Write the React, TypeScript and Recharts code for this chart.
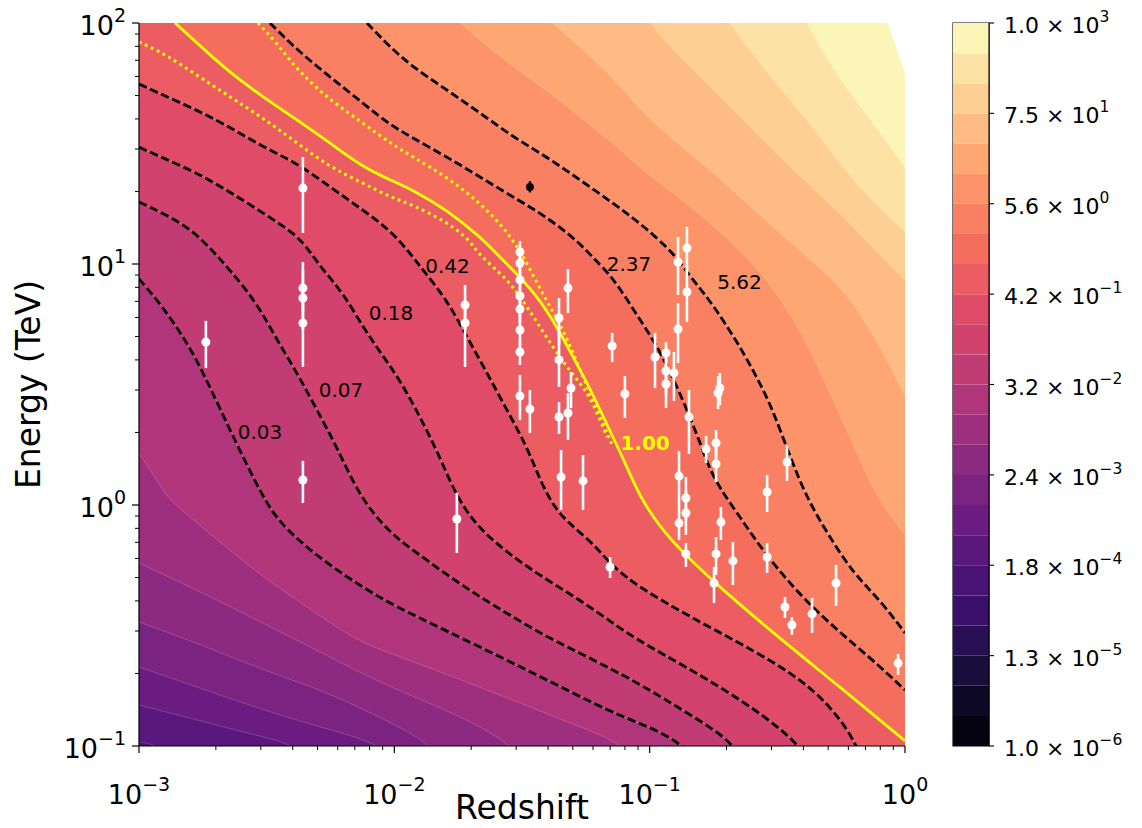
import React from 'react';
import {
  ComposedChart, Area, Line, Scatter, XAxis, YAxis, ErrorBar, Label,
  BarChart, Bar, ReferenceArea,
} from 'recharts';

const FONT = "'DejaVu Sans', sans-serif";

// ---------------- optical-depth levels (colour bands) ----------------
const tauLevels = [1e-6, 2.37e-6, 5.62e-6, 1.33e-5, 3.16e-5, 7.5e-5, 1.78e-4, 4.22e-4, 1.0e-3, 2.37e-3, 5.62e-3,
  1.33e-2, 3.16e-2, 7.5e-2, 0.178, 0.422, 1.0, 2.37, 5.62, 13.3, 31.6, 75.0, 178, 422, 1000];

// colour-bar ticks
const cbTickIndex = [0, 3, 6, 9, 12, 15, 18, 21, 24];
const cbTickMantissa = ['1.0', '1.3', '1.8', '2.4', '3.2', '4.2', '5.6', '7.5', '1.0'];
const cbTickExponent = [-6, -5, -4, -3, -2, -1, 0, 1, 3];

// axis ticks (log10 units)
const xMajorTicks = [-3, -2, -1, 0];
const yMajorTicks = [-1, 0, 1, 2];
const minorMantissas = [2, 3, 4, 5, 6, 7, 8, 9];

// ---------------- contour boundaries: [log10 z, log10 E/TeV] ----------------
const lvl06 = [[-3.0, -0.983], [-2.898, -1.0]];
const lvl07 = [[-3.0, -0.83], [-2.773, -0.892], [-2.514, -0.963], [-2.366, -1.0]];
const lvl08 = [[-3.0, -0.672], [-2.773, -0.755], [-2.514, -0.851], [-2.252, -0.934], [-2.017, -1.0]];
const lvl09 = [[-3.0, -0.485], [-2.773, -0.573], [-2.514, -0.685], [-2.252, -0.78], [-2.037, -0.892], [-1.833, -1.0]];
const lvl10 = [[-3.0, -0.241], [-2.773, -0.353], [-2.514, -0.49], [-2.252, -0.631], [-2.037, -0.747], [-1.794, -0.851], [-1.508, -1.0]];
const lvl11 = [[-3.0, 0.216], [-2.906, 0.062], [-2.879, 0.021], [-2.773, -0.075], [-2.644, -0.187], [-2.514, -0.299],
  [-2.381, -0.394], [-2.252, -0.49], [-2.123, -0.573], [-2.017, -0.614], [-1.664, -0.755], [-1.273, -0.921], [-1.077, -1.0]];
const lvl12 = [[-3.0, 0.938], [-2.906, 0.822], [-2.8, 0.656], [-2.722, 0.49], [-2.644, 0.311], [-2.514, 0.029],
  [-2.448, -0.075], [-2.319, -0.199], [-2.185, -0.299], [-2.056, -0.386], [-1.927, -0.456], [-1.664, -0.589],
  [-1.402, -0.726], [-1.144, -0.863], [-1.038, -0.905], [-0.84, -1.0]];
const lvl13 = [[-3.0, 1.257], [-2.898, 1.207], [-2.792, 1.141], [-2.714, 1.058], [-2.644, 0.975], [-2.538, 0.838],
  [-2.46, 0.685], [-2.381, 0.548], [-2.303, 0.394], [-2.225, 0.241], [-2.134, 0.029], [-2.017, -0.116], [-1.927, -0.187],
  [-1.794, -0.29], [-1.664, -0.382], [-1.535, -0.465], [-1.402, -0.548], [-1.273, -0.614], [-1.144, -0.685],
  [-1.038, -0.743], [-0.84, -0.871], [-0.646, -1.0]];
const lvl14 = [[-3.0, 1.485], [-2.906, 1.44], [-2.773, 1.378], [-2.644, 1.299], [-2.514, 1.212], [-2.381, 1.12],
  [-2.33, 1.05], [-2.279, 0.975], [-2.201, 0.88], [-2.123, 0.739], [-2.056, 0.635], [-1.978, 0.519], [-1.899, 0.365],
  [-1.821, 0.199], [-1.755, 0.029], [-1.664, -0.104], [-1.535, -0.216], [-1.402, -0.311], [-1.273, -0.394],
  [-1.144, -0.49], [-1.038, -0.568], [-0.713, -0.755], [-0.384, -1.0]];
const lvl15 = [[-3.0, 1.747], [-2.906, 1.701], [-2.773, 1.639], [-2.644, 1.568], [-2.514, 1.485], [-2.381, 1.419],
  [-2.252, 1.32], [-2.123, 1.224], [-2.017, 1.141], [-1.939, 1.046], [-1.888, 0.975], [-1.794, 0.851], [-1.715, 0.697],
  [-1.637, 0.548], [-1.559, 0.394], [-1.48, 0.241], [-1.43, 0.104], [-1.379, 0.0], [-1.324, -0.07], [-1.222, -0.158],
  [-1.144, -0.257], [-1.038, -0.344], [-0.84, -0.465], [-0.646, -0.573], [-0.345, -0.755], [-0.176, -1.0]];
const lvl16 = [[-2.859, 2.0], [-2.773, 1.917], [-2.644, 1.793], [-2.514, 1.693], [-2.381, 1.598], [-2.252, 1.502],
  [-2.123, 1.402], [-2.017, 1.349], [-1.927, 1.307], [-1.794, 1.224], [-1.664, 1.112], [-1.614, 1.058], [-1.508, 0.946],
  [-1.43, 0.851], [-1.363, 0.739], [-1.3, 0.614], [-1.245, 0.506], [-1.194, 0.394], [-1.144, 0.282], [-1.089, 0.158],
  [-1.038, 0.033], [-0.96, -0.091], [-0.869, -0.199], [-0.744, -0.324], [-0.517, -0.531], [-0.255, -0.755], [0.0, -0.979]];
const lvl17 = [[-2.487, 2.0], [-2.381, 1.888], [-2.252, 1.776], [-2.123, 1.668], [-2.017, 1.577], [-1.927, 1.523],
  [-1.794, 1.444], [-1.664, 1.361], [-1.535, 1.278], [-1.402, 1.195], [-1.273, 1.087], [-1.222, 1.025], [-1.144, 0.946],
  [-1.038, 0.768], [-0.96, 0.643], [-0.869, 0.436], [-0.802, 0.257], [-0.764, 0.145], [-0.713, 0.05], [-0.646, -0.05],
  [-0.54, -0.216], [-0.36, -0.436], [-0.125, -0.643], [0.0, -0.768]];
const lvl18 = [[-2.107, 2.0], [-2.017, 1.9], [-1.927, 1.817], [-1.794, 1.722], [-1.664, 1.627], [-1.535, 1.527],
  [-1.402, 1.444], [-1.273, 1.349], [-1.144, 1.253], [-1.038, 1.17], [-0.909, 1.05], [-0.84, 0.946], [-0.775, 0.863],
  [-0.713, 0.768], [-0.646, 0.656], [-0.58, 0.531], [-0.517, 0.394], [-0.45, 0.199], [-0.384, 0.029], [-0.305, -0.116],
  [-0.204, -0.282], [-0.098, -0.394], [0.0, -0.531]];
const lvl19 = [[-1.743, 2.0], [-1.664, 1.929], [-1.535, 1.817], [-1.402, 1.722], [-1.273, 1.61], [-1.144, 1.502],
  [-1.038, 1.398], [-0.909, 1.295], [-0.775, 1.183], [-0.646, 1.058], [-0.54, 0.934], [-0.45, 0.797], [-0.36, 0.622],
  [-0.282, 0.436], [-0.204, 0.257], [-0.125, 0.062], [-0.059, -0.041], [0.0, -0.124]];
const lvl20 = [[-1.379, 2.0], [-1.273, 1.9], [-1.144, 1.776], [-1.038, 1.639], [-0.909, 1.515], [-0.775, 1.402],
  [-0.646, 1.278], [-0.517, 1.154], [-0.392, 1.037], [-0.255, 0.913], [-0.149, 0.755], [-0.07, 0.602], [0.0, 0.456]];
const lvl21 = [[-0.999, 2.0], [-0.909, 1.888], [-0.775, 1.751], [-0.646, 1.61], [-0.517, 1.473], [-0.384, 1.336],
  [-0.255, 1.212], [-0.125, 1.066], [0.0, 0.934]];
const lvl22 = [[-0.685, 2.0], [-0.58, 1.846], [-0.45, 1.68], [-0.321, 1.515], [-0.188, 1.32], [0.0, 1.133]];
const lvl23 = [[-0.384, 2.0], [-0.305, 1.846], [-0.204, 1.693], [-0.098, 1.544], [0.0, 1.402]];
const lvl24 = [[-0.067, 2.0], [0.0, 1.793]];

// tau = 1 uncertainty (dotted yellow)
const tauOneUpper = [[-2.534, 2.0], [-2.46, 1.917], [-2.381, 1.805], [-2.252, 1.68], [-2.123, 1.585], [-2.017, 1.502],
  [-1.927, 1.444], [-1.794, 1.361], [-1.664, 1.253], [-1.574, 1.154], [-1.508, 1.058], [-1.441, 0.921], [-1.39, 0.822],
  [-1.339, 0.726], [-1.3, 0.631], [-1.261, 0.531], [-1.222, 0.436], [-1.183, 0.34], [-1.147, 0.249]];
const tauOneLower = [[-3.0, 1.921], [-2.906, 1.876], [-2.773, 1.784], [-2.644, 1.693], [-2.514, 1.606], [-2.381, 1.502],
  [-2.252, 1.402], [-2.123, 1.336], [-2.017, 1.278], [-1.927, 1.245], [-1.794, 1.174], [-1.704, 1.1], [-1.676, 1.046],
  [-1.586, 0.963], [-1.535, 0.905], [-1.48, 0.822], [-1.43, 0.739], [-1.379, 0.656], [-1.324, 0.573], [-1.273, 0.506],
  [-1.234, 0.448], [-1.194, 0.353], [-1.167, 0.282]];

// contour labels
const contourLabelText = ['0.03', '0.07', '0.18', '0.42', '1.00', '2.37', '5.62'];
const contourLabelLogZ = [-2.526, -2.209, -2.013, -1.792, -1.018, -1.081, -0.648];
const contourLabelLogE = [0.303, 0.477, 0.797, 0.992, 0.257, 1.0, 0.927];

// ---------------- source measurements (log10 z, log10 E) ----------------
const pointLogZ = [-2.738, -2.358, -2.358, -2.358, -2.358, -2.358, -1.755, -1.723, -1.723,
  -1.508, -1.508, -1.508, -1.508, -1.508, -1.508, -1.508, -1.508,
  -1.469, -1.355, -1.355, -1.355, -1.347, -1.32, -1.308, -1.32, -1.261, -1.155, -1.147, -1.097, -0.979,
  -0.936, -0.936, -0.936, -0.905, -0.889, -0.854, -0.854, -0.889, -0.732, -0.725, -0.846, -0.779,
  -0.74, -0.74, -0.885, -0.885, -0.858, -0.858, -0.858, -0.721, -0.74, -0.748, -0.674, -0.54, -0.54,
  -0.462, -0.47, -0.443, -0.364, -0.27, -0.027];
const pointLogE = [0.676, 1.315, 0.9, 0.859, 0.755, 0.104, -0.058, 0.83, 0.755,
  1.05, 1.004, 0.934, 0.867, 0.813, 0.726, 0.635, 0.452,
  0.398, 0.776, 0.602, 0.365, 0.116, 0.9, 0.485, 0.382, 0.1, -0.257, 0.66, 0.461, 0.614,
  0.631, 0.556, 0.502, 0.548, 1.008, 1.066, 0.884, 0.73, 0.465, 0.485, 0.365, 0.232,
  0.257, 0.17, 0.12, -0.075, 0.029, -0.033, -0.203, -0.071, -0.203, -0.324, -0.232, 0.054, -0.216,
  0.178, -0.423, -0.498, -0.452, -0.324, -0.656];
const pointLogELow = [0.568, 1.129, 0.801, 0.726, 0.573, 0.008, -0.199, 0.726, 0.573,
  1.004, 0.934, 0.867, 0.801, 0.755, 0.656, 0.581, 0.353,
  0.299, 0.664, 0.49, 0.295, -0.021, 0.797, 0.402, 0.27, -0.021, -0.303, 0.593, 0.361, 0.485,
  0.552, 0.456, 0.402, 0.432, 0.871, 0.967, 0.759, 0.589, 0.398, 0.415, 0.212, 0.174,
  0.187, 0.095, 0.021, -0.145, -0.062, -0.124, -0.257, -0.145, -0.29, -0.407, -0.332, -0.029, -0.282,
  0.1, -0.469, -0.539, -0.531, -0.419, -0.705];
const pointLogEHigh = [0.764, 1.444, 1.008, 0.975, 0.892, 0.183, 0.05, 0.913, 0.851,
  1.095, 1.058, 0.996, 0.925, 0.867, 0.793, 0.685, 0.539,
  0.477, 0.859, 0.726, 0.427, 0.228, 0.979, 0.552, 0.465, 0.207, -0.216, 0.714, 0.535, 0.714,
  0.676, 0.643, 0.581, 0.635, 1.112, 1.154, 0.996, 0.838, 0.535, 0.548, 0.477, 0.286,
  0.311, 0.237, 0.224, 0.021, 0.116, 0.062, -0.158, -0.008, -0.133, -0.257, -0.154, 0.124, -0.158,
  0.245, -0.382, -0.465, -0.386, -0.249, -0.618];

const blackLogZ = [-1.469];
const blackLogE = [1.32];
const blackLogELow = [1.297];
const blackLogEHigh = [1.343];

// ---------------- helpers ----------------
const MAGMA = ['#000004', '#140e36', '#3b0f70', '#641a80', '#8c2981', '#b73779', '#de4968', '#f7705c', '#fe9f6d', '#fecf92', '#fcfdbf'];
const hexToRgb = (h: string) => [1, 3, 5].map((i) => parseInt(h.slice(i, i + 2), 16));
function magma(t: number) {
  const s = Math.max(0, Math.min(1, t)) * 10;
  const i = Math.min(9, Math.floor(s));
  const f = s - i;
  const a = hexToRgb(MAGMA[i]);
  const b = hexToRgb(MAGMA[i + 1]);
  const c = a.map((v, j) => Math.round(v + (b[j] - v) * f));
  return `rgb(${c[0]},${c[1]},${c[2]})`;
}
const nBands = tauLevels.length - 1;
const bandColor = (k: number) => (k >= nBands ? '#ffffff' : magma((k + 0.6) / nBands));

// contour path; contours leaving through the bottom edge are continued below the frame (clipped)
const contourPath = (pts: number[][]) => {
  const d = pts.map(([x, y]) => ({ x, y }));
  const last = d[d.length - 1];
  if (last.y <= -1 && last.x < 0) {
    d.push({ x: last.x + 0.03, y: -1.15 });
    d.push({ x: 0.05, y: -1.15 });
  }
  return d;
};
const toXY = (pts: number[][]) => pts.map(([x, y]) => ({ x, y }));

const fillContours: { k: number; pts: number[][] }[] = [
  { k: 6, pts: lvl06 }, { k: 7, pts: lvl07 }, { k: 8, pts: lvl08 }, { k: 9, pts: lvl09 }, { k: 10, pts: lvl10 },
  { k: 11, pts: lvl11 }, { k: 12, pts: lvl12 }, { k: 13, pts: lvl13 }, { k: 14, pts: lvl14 }, { k: 15, pts: lvl15 },
  { k: 16, pts: lvl16 }, { k: 17, pts: lvl17 }, { k: 18, pts: lvl18 }, { k: 19, pts: lvl19 }, { k: 20, pts: lvl20 },
  { k: 21, pts: lvl21 }, { k: 22, pts: lvl22 }, { k: 23, pts: lvl23 }, { k: 24, pts: lvl24 },
];
const dashedContours = [lvl12, lvl13, lvl14, lvl15, lvl17, lvl18];

const pointRows = pointLogZ.map((x, i) => ({
  x, y: pointLogE[i], err: [pointLogE[i] - pointLogELow[i], pointLogEHigh[i] - pointLogE[i]],
}));
const blackRows = blackLogZ.map((x, i) => ({
  x, y: blackLogE[i], err: [blackLogE[i] - blackLogELow[i], blackLogEHigh[i] - blackLogE[i]],
}));
const labelRows = contourLabelText.map((t, i) => ({ x: contourLabelLogZ[i], y: contourLabelLogE[i], text: t }));

const xTicks = [...xMajorTicks, ...xMajorTicks.slice(0, -1).flatMap((n) => minorMantissas.map((m) => n + Math.log10(m)))];
const yTicks = [...yMajorTicks, ...yMajorTicks.slice(0, -1).flatMap((n) => minorMantissas.map((m) => n + Math.log10(m)))];

const fmtExp = (e: number) => (e < 0 ? `\u2212${-e}` : `${e}`);
const isMajor = (v: number, majors: number[]) => majors.findIndex((m) => Math.abs(m - v) < 1e-9);

const XTick = (props: any) => {
  const { x, y, payload } = props;
  const idx = isMajor(payload.value, xMajorTicks);
  return (
    <g>
      <line x1={x} x2={x} y1={y} y2={y + (idx >= 0 ? 7 : 4)} stroke="#000" strokeWidth={idx >= 0 ? 1.2 : 1} />
      {idx >= 0 && (
        <text x={x} y={y + 58} textAnchor="middle" fontFamily={FONT} fontSize={27} fill="#000">
          10<tspan dy={-13} fontSize={19}>{fmtExp(xMajorTicks[idx])}</tspan>
        </text>
      )}
    </g>
  );
};

const YTick = (props: any) => {
  const { x, y, payload } = props;
  const idx = isMajor(payload.value, yMajorTicks);
  return (
    <g>
      <line x1={x} x2={x - (idx >= 0 ? 7 : 4)} y1={y} y2={y} stroke="#000" strokeWidth={idx >= 0 ? 1.2 : 1} />
      {idx >= 0 && (
        <text x={x - 13} y={y + 12} textAnchor="end" fontFamily={FONT} fontSize={27} fill="#000">
          10<tspan dy={-13} fontSize={19}>{fmtExp(yMajorTicks[idx])}</tspan>
        </text>
      )}
    </g>
  );
};

const CbTick = (props: any) => {
  const { x, y, payload } = props;
  const idx = cbTickIndex.indexOf(payload.value);
  if (idx < 0) return null;
  return (
    <g>
      <line x1={x} x2={x + 5} y1={y} y2={y} stroke="#000" strokeWidth={1.1} />
      <text x={x + 15} y={y + 10} textAnchor="start" fontFamily={FONT} fontSize={22} fill="#000">
        {cbTickMantissa[idx]} {'\u00d7'} 10<tspan dy={-11} fontSize={15.5}>{fmtExp(cbTickExponent[idx])}</tspan>
      </text>
    </g>
  );
};

const YTitle = (props: any) => {
  const vb = props.viewBox;
  const cx = vb.x + 12;
  const cy = vb.y + vb.height / 2;
  return (
    <text x={cx} y={cy} transform={`rotate(-90, ${cx}, ${cy})`} textAnchor="middle" fontFamily={FONT} fontSize={33} fill="#000">
      Energy (TeV)
    </text>
  );
};
const XTitle = (props: any) => {
  const vb = props.viewBox;
  return (
    <text x={vb.x + vb.width / 2} y={vb.y + 73} textAnchor="middle" fontFamily={FONT} fontSize={33} fill="#000">
      Redshift
    </text>
  );
};

const LabelShape = (props: any) => {
  const { cx, cy, payload } = props;
  const isOne = payload.text === '1.00';
  return (
    <text x={cx} y={cy} textAnchor="middle" dominantBaseline="central" fontFamily={FONT} fontSize={20}
      fontWeight={isOne ? 'bold' : 'normal'} fill={isOne ? '#ffff00' : '#000'}>
      {payload.text}
    </text>
  );
};
const BlackDot = (props: any) => <circle cx={props.cx} cy={props.cy} r={4} fill="#000" />;

const cbRow: Record<string, number | string> = { name: 'tau' };
tauLevels.slice(1).forEach((_, i) => { cbRow[`b${i}`] = 1; });

const CURVE = 'basis';

export default function App() {
  return (
    <div style={{ position: 'absolute', left: 0, top: 0, width: 1142, height: 828 }}>
      <ComposedChart width={1142} height={828} margin={{ top: 23, right: 237, bottom: 0, left: 28 }}>
        <XAxis xAxisId={0} type="number" dataKey="x" domain={[-3, 0]} allowDataOverflow ticks={xTicks} interval={0}
          tick={XTick} tickLine={false} tickSize={0} tickMargin={0} height={82}
          axisLine={{ stroke: '#000', strokeWidth: 1.2 }}>
          <Label content={XTitle} />
        </XAxis>
        <XAxis xAxisId="top" orientation="top" type="number" domain={[-3, 0]} allowDataOverflow height={0}
          tick={false} tickLine={false} axisLine={{ stroke: '#000', strokeWidth: 1.2 }} />
        <YAxis yAxisId={0} type="number" dataKey="y" domain={[-1, 2]} allowDataOverflow ticks={yTicks} interval={0}
          tick={YTick} tickLine={false} tickSize={0} tickMargin={0} width={111}
          axisLine={{ stroke: '#000', strokeWidth: 1.2 }}>
          <Label content={YTitle} />
        </YAxis>
        <YAxis yAxisId="right" orientation="right" type="number" domain={[-1, 2]} allowDataOverflow width={0}
          tick={false} tickLine={false} axisLine={{ stroke: '#000', strokeWidth: 1.2 }} />

        <Area data={[{ x: -3, y: -1 }, { x: 0, y: -1 }]} dataKey="y" type="linear" baseValue={2}
          fill={bandColor(5)} fillOpacity={1} stroke="none" isAnimationActive={false} dot={false} activeDot={false} />
        {fillContours.map((c) => (
          <Area key={`f${c.k}`} data={contourPath(c.pts)} dataKey="y" type={CURVE} baseValue={2}
            fill={bandColor(c.k)} fillOpacity={1} stroke="#ffffff" strokeOpacity={0.3} strokeWidth={0.6}
            isAnimationActive={false} dot={false} activeDot={false} />
        ))}
        {dashedContours.map((pts, i) => (
          <Line key={`d${i}`} data={contourPath(pts)} dataKey="y" type={CURVE} stroke="#000" strokeWidth={2.8}
            strokeDasharray="8.5 3.7" dot={false} activeDot={false} isAnimationActive={false} />
        ))}
        <Line data={contourPath(lvl16)} dataKey="y" type={CURVE} stroke="#ffff00" strokeWidth={2.8}
          dot={false} activeDot={false} isAnimationActive={false} />
        <Line data={toXY(tauOneUpper)} dataKey="y" type={CURVE} stroke="#ffff00" strokeWidth={3}
          strokeDasharray="2.8 3.8" dot={false} activeDot={false} isAnimationActive={false} />
        <Line data={toXY(tauOneLower)} dataKey="y" type={CURVE} stroke="#ffff00" strokeWidth={3}
          strokeDasharray="2.8 3.8" dot={false} activeDot={false} isAnimationActive={false} />

        <Scatter data={pointRows} dataKey="y" fill="#ffffff" shape="circle" isAnimationActive={false}>
          <ErrorBar dataKey="err" direction="y" width={0} stroke="#ffffff" strokeWidth={2.6} />
        </Scatter>
        <Scatter data={blackRows} dataKey="y" fill="#000" shape={BlackDot} isAnimationActive={false}>
          <ErrorBar dataKey="err" direction="y" width={0} stroke="#000" strokeWidth={2.4} />
        </Scatter>
        <Scatter data={labelRows} dataKey="y" shape={LabelShape} isAnimationActive={false} />
      </ComposedChart>

      <div style={{ position: 'absolute', left: 940, top: 0 }}>
        <BarChart width={200} height={828} data={[cbRow]} margin={{ top: 23, right: 0, bottom: 82, left: 13 }}
          barCategoryGap={0} barGap={0}>
          <XAxis dataKey="name" hide />
          <YAxis orientation="right" type="number" domain={[0, 24]} ticks={cbTickIndex} interval={0}
            tick={CbTick} tickLine={false} tickSize={0} tickMargin={0} width={151}
            axisLine={{ stroke: '#000', strokeWidth: 1.1 }} />
          {tauLevels.slice(1).map((_, i) => (
            <Bar key={`b${i}`} dataKey={`b${i}`} stackId="cb" fill={bandColor(i)} isAnimationActive={false} />
          ))}
          <ReferenceArea y1={0} y2={24} fill="none" stroke="#000" strokeWidth={1.1} ifOverflow="visible" />
        </BarChart>
      </div>
    </div>
  );
}
